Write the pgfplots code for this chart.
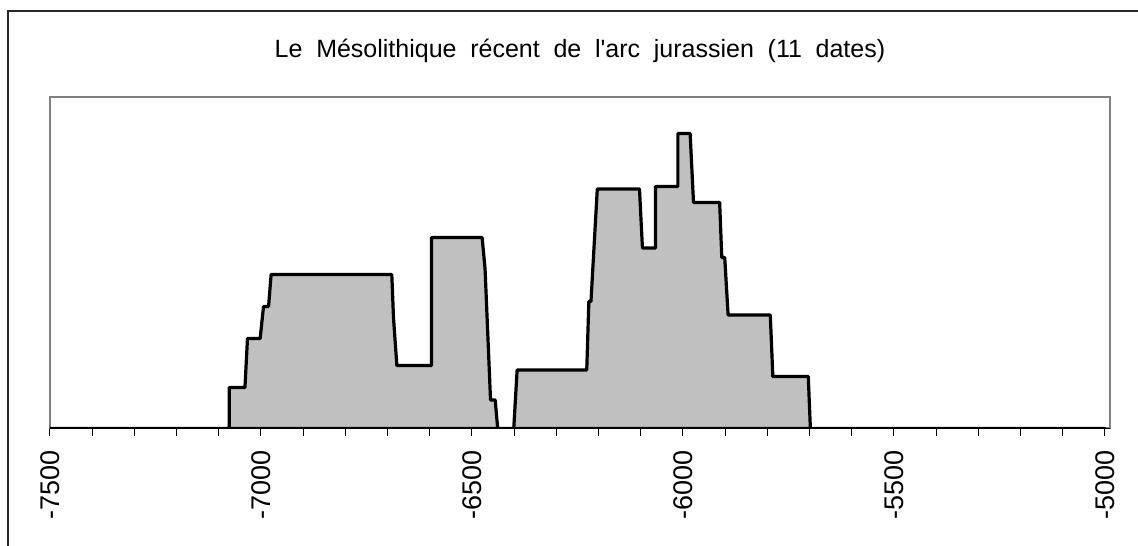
\documentclass[border=0pt]{standalone}
\usepackage{pgfplots}
\pgfplotsset{compat=1.18}
\usepackage{fontspec}
\setmainfont{Liberation Sans}
\newfontfamily\titlefont{Liberation Sans}
\definecolor{silverfill}{HTML}{C0C0C0}
\definecolor{framegray}{HTML}{808080}
\begin{document}
\begin{tikzpicture}[x=1pt,y=1pt]
\useasboundingbox (0,0) rectangle (1138,546);
\draw[line width=1.5pt, black!85] (8,0) -- (8,535) -- (1140,535);
\node[anchor=base, font=\titlefont\fontsize{25}{30}\selectfont, inner sep=0pt] at (580,488) {Le\hspace{0.55em}Mésolithique\hspace{0.55em}récent\hspace{0.55em}de\hspace{0.55em}l'arc\hspace{0.55em}jurassien\hspace{0.55em}(11\hspace{0.55em}dates)};
\begin{axis}[
  at={(50pt,117.5pt)}, anchor=south west,
  scale only axis, width=1060pt, height=331.5pt,
  xmin=-7500, xmax=-4988, ymin=0, ymax=331.5,
  axis line style={draw=framegray, line width=2pt},
  xtick={-7500,-7000,-6500,-6000,-5500,-5000},
  xticklabels={-7500,-7000,-6500,-6000,-5500,-5000},
  minor x tick num=4,
  ytick=\empty,
  xtick pos=lower,
  tick align=outside,
  major tick length=8pt, minor tick length=8pt,
  every tick/.style={black, line width=1pt},
  xticklabel style={rotate=90, anchor=east, inner sep=0pt, font=\fontsize{27}{30}\selectfont},
  xticklabel shift=14pt,
]
\addplot[fill=silverfill, draw=black, line width=3.2pt, line join=round] coordinates {
(-7500,0) (-7075,0) (-7075,41) (-7038,41) (-7032,90) (-7002,90) (-6994,122) (-6982,122)
(-6976,154) (-6690,154) (-6686,111) (-6678,63) (-6596,63) (-6596,191) (-6476,191)
(-6469,160) (-6456,28.5) (-6445,28.5) (-6439,0) (-6401,0) (-6393,58.5) (-6228,58.5)
(-6223,127) (-6218,127) (-6203,239.5) (-6103,239.5) (-6096,180.5) (-6065,180.5)
(-6065,242) (-6012,242) (-6012,295) (-5983,295) (-5975,226) (-5913,226) (-5908,171)
(-5901,171) (-5893,113.5) (-5793,113.5) (-5787,52) (-5703,52) (-5698,0) (-5000,0)
} \closedcycle;
\draw[black, line width=1.5pt] (rel axis cs:0,0) -- (rel axis cs:1,0);
\end{axis}
\end{tikzpicture}
\end{document}
